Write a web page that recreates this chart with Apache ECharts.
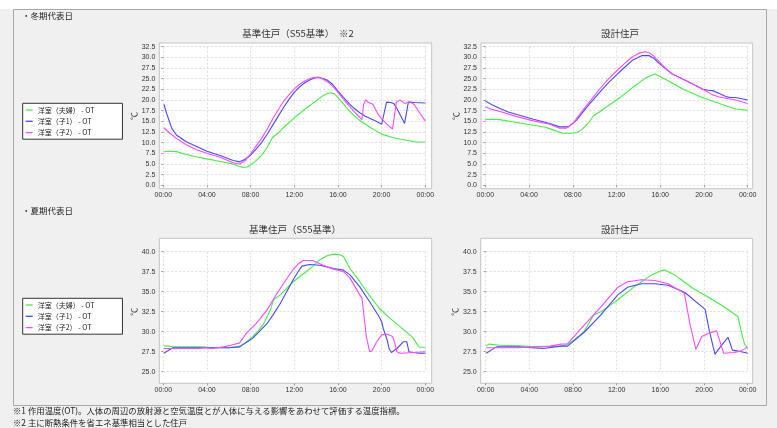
<!DOCTYPE html>
<html>
<head>
<meta charset="utf-8">
<script src="https://cdn.jsdelivr.net/npm/echarts@6/dist/echarts.min.js"></script>
<style>
html,body{margin:0;padding:0;background:#f0f0f0;}
#c{width:777px;height:428px;}
</style>
</head>
<body>
<div id="c"></div>
<script>
// ---------- data (time in hours, value in ℃) ----------
const seriesNames = ['洋室（夫婦） - OT', '洋室（子1） - OT', '洋室（子2） - OT'];
const chartTitles = ['基準住戸（S55基準）　※2', '設計住戸', '基準住戸（S55基準）', '設計住戸'];
const sectionTitles = ['・冬期代表日', '・夏期代表日'];
const footnotes = ['※1 作用温度(OT)。人体の周辺の放射源と空気温度とが人体に与える影響をあわせて評価する温度指標。',
                   '※2 主に断熱条件を省エネ基準相当とした住戸'];
const xTicks = [0, 4, 8, 12, 16, 20, 24];
const winterYRange = [0, 32.5, 2.5];
const summerYRange = [25, 40, 2.5];

// Winter, base dwelling
const w1Green = [[0.1,7.9],[0.5,8.0],[1.2,7.9],[2,7.3],[3,6.7],[4,6.2],[5,5.7],[6,5.2],[6.5,4.9],[7,4.4],[7.3,4.2],[7.7,4.3],[8,4.8],[8.5,5.8],[9,7.0],[9.5,8.8],[10,11.2],[10.5,12.2],[11,13.5],[12,15.8],[13,17.9],[14,19.8],[14.5,20.8],[15,21.5],[15.3,21.7],[15.7,21.4],[16,20.6],[16.5,19.1],[17,17.6],[17.5,16.3],[18,15.2],[19,13.5],[20,12.0],[21,11.2],[22,10.7],[23,10.2],[23.5,10.1],[24,10.2]];
const w1Blue = [[0.05,19.0],[0.3,16.9],[0.77,13.4],[1.2,11.8],[2.1,10.2],[3.1,9.05],[4,8.0],[5.2,7.0],[6.4,5.8],[7.0,5.5],[7.5,6.1],[8,7.1],[8.5,8.5],[9,10.0],[9.5,11.9],[10,14.0],[10.5,16.1],[11,18.2],[11.5,20.1],[12,21.8],[12.5,23.1],[13,24.1],[13.5,24.8],[14,25.3],[14.3,25.3],[14.7,25.0],[15,24.7],[15.5,23.7],[16,22.1],[16.5,20.6],[17,19.2],[17.5,18.0],[18,17.0],[18.5,16.2],[19,15.6],[19.5,15.0],[20,14.3],[20.15,14.0],[20.45,19.5],[20.8,19.4],[21.1,19.2],[21.4,18.0],[21.8,16.0],[22.1,14.5],[22.45,19.5],[23,19.4],[24,19.3]];
const w1Magenta = [[0.05,13.5],[0.6,12.2],[1.2,11.0],[2.1,9.5],[3.1,8.3],[4,7.5],[5.2,6.6],[6.4,5.3],[7.0,5.0],[7.5,5.8],[8,7.4],[8.5,9.2],[9,11.0],[9.5,13.1],[10,15.5],[10.5,17.6],[11,19.6],[11.5,21.2],[12,22.6],[12.5,23.7],[13,24.5],[13.5,25.1],[13.9,25.3],[14.3,25.2],[14.7,24.8],[15,24.3],[15.5,23.3],[16,21.8],[16.5,20.2],[17,18.7],[17.5,17.2],[18,15.9],[18.2,15.4],[18.35,19.0],[18.55,20.0],[18.8,19.4],[19.2,19.0],[19.6,17.0],[20,15.6],[20.5,14.3],[21.0,13.2],[21.1,13.1],[21.35,19.5],[21.7,20.0],[22.1,19.2],[22.6,19.6],[23.0,18.9],[23.5,16.9],[24,15.1]];

// Winter, design dwelling
const w2Green = [[0,15.4],[0.5,15.5],[1.3,15.4],[2.5,14.9],[4.4,14.1],[5.5,13.6],[6.2,13.0],[7.1,12.2],[8.0,12.2],[8.4,12.4],[8.8,13.0],[9.4,14.5],[9.9,16.3],[10.5,17.3],[11.2,18.6],[12,20.0],[13,21.9],[13.5,23.0],[14.2,24.3],[14.75,25.3],[15.5,26.1],[16.3,25.1],[17,24.1],[18.1,22.5],[19,21.5],[19.6,20.8],[20.5,20.0],[21.4,19.2],[22.2,18.5],[22.9,17.9],[24,17.6]];
const w2Blue = [[0,19.8],[0.6,18.9],[1.35,18.0],[2.1,17.2],[2.9,16.6],[4.4,15.5],[5.9,14.5],[6.8,13.7],[7.6,13.7],[8.35,15.3],[9.3,18.4],[10.5,21.9],[11.2,23.9],[12,25.9],[12.8,27.8],[13.5,29.4],[14.3,30.4],[15.0,30.4],[15.4,29.8],[15.9,28.6],[16.5,27.3],[17.1,26.1],[18,25.0],[18.7,24.1],[19.9,22.5],[20.4,22.3],[20.8,22.2],[21.4,21.5],[22.0,20.8],[22.4,20.6],[22.9,20.6],[24,20.0]];
const w2Magenta = [[0,18.4],[0.6,17.8],[1.35,17.3],[2.9,16.1],[4.4,15.1],[5.9,14.3],[6.8,13.4],[7.45,13.4],[8.0,14.5],[8.95,17.7],[10.5,22.7],[11.2,24.8],[12,26.8],[12.8,28.7],[13.5,30.2],[14.1,31.0],[14.6,31.3],[15.0,31.1],[15.4,30.3],[15.9,29.0],[16.5,27.4],[17.1,26.1],[18,25.0],[18.7,24.1],[19.9,22.5],[20.8,21.2],[21.4,20.7],[22.0,20.4],[22.9,20.0],[24,19.2]];

// Summer, base dwelling
const s1Green = [[0.05,28.25],[0.5,28.2],[0.9,28.1],[2,28.1],[3.7,28.1],[4.5,28.0],[6,28.0],[7.0,28.2],[7.6,28.7],[8.2,29.4],[8.7,30.1],[9.2,31.0],[9.8,32.7],[10.1,34.0],[10.7,34.6],[11.3,35.4],[11.9,36.25],[12.5,36.9],[13.1,37.5],[13.7,38.2],[14.35,39.0],[15,39.5],[15.6,39.7],[16.2,39.6],[16.5,39.4],[17.1,37.9],[18,36.25],[18.9,34.5],[19.8,32.9],[20.75,31.7],[21.7,30.6],[22.5,29.7],[22.9,29.2],[23.3,28.3],[23.5,28.05],[24,28.05]];
const s1Blue = [[0.05,27.3],[0.5,27.7],[0.9,28.0],[2,28.0],[4,28.0],[6,28.0],[7,28.1],[8.2,29.2],[9.5,31.0],[10.1,32.2],[10.7,33.5],[11.3,35.0],[11.9,36.5],[12.3,37.4],[12.7,38.2],[13.4,38.4],[14.35,38.3],[15.0,38.1],[15.6,37.9],[16.5,37.7],[17.1,37.1],[18,35.6],[18.9,33.75],[19.8,31.8],[20.0,31.25],[20.15,30.4],[20.5,29.0],[20.7,27.8],[20.9,27.4],[21.4,27.9],[22.0,28.75],[22.3,28.75],[22.5,27.5],[22.9,27.4],[23.5,27.3],[24,27.3]];
const s1Magenta = [[0.05,27.9],[1,27.9],[3.3,27.9],[3.8,28.0],[4.5,27.9],[5.5,28.1],[6.2,28.3],[7.0,28.6],[7.6,29.8],[8.5,31.0],[9.5,32.7],[10.2,34.3],[11.0,36.0],[11.9,37.8],[12.4,38.5],[12.8,38.9],[13.7,38.9],[14.65,38.3],[15.6,37.8],[16.5,37.5],[17.1,36.7],[18,34.6],[18.2,34.2],[18.6,29.4],[18.9,27.5],[19.1,27.6],[19.55,28.75],[20.0,29.6],[20.5,29.7],[21.0,29.4],[21.2,28.6],[21.4,27.5],[21.7,27.3],[22.9,27.4],[24,27.5]];

// Summer, design dwelling
const s2Green = [[0.05,28.25],[0.3,28.45],[1.3,28.3],[3,28.25],[4.5,28.1],[6.9,28.2],[7.5,28.4],[8.2,29.1],[9.0,30.0],[9.9,32.1],[10.55,32.5],[11.3,33.2],[12.1,34.0],[13.6,35.6],[15.2,37.1],[16.0,37.6],[16.4,37.7],[17.3,37.1],[18.1,36.3],[18.9,35.5],[20.4,34.3],[21.9,33.05],[23.1,31.9],[23.5,29.5],[23.7,28.5],[24,27.9]];
const s2Blue = [[0.05,27.3],[0.5,27.7],[1.0,28.1],[3,28.1],[5.3,27.9],[6.9,28.2],[7.5,28.2],[9.0,29.9],[10.55,32.1],[12.1,34.6],[13.0,35.55],[14.25,36.0],[15.5,36.0],[16.7,35.8],[18.25,34.9],[20.1,32.8],[20.5,30.0],[21.0,27.2],[21.6,28.3],[22.2,29.3],[22.6,27.7],[23.0,27.6],[23.4,27.5],[24,27.3]];
const s2Magenta = [[0.05,28.0],[3,28.0],[5.9,28.2],[6.9,28.45],[7.5,28.5],[9.0,30.8],[10.55,33.1],[12.1,35.55],[13.0,36.25],[14.25,36.5],[15.5,36.4],[16.7,36.0],[18.2,34.8],[18.7,31.05],[19.25,27.8],[19.8,29.4],[20.4,29.8],[21.15,30.1],[21.8,27.3],[22.8,27.4],[23.4,27.6],[24,28.1]];

// ---------- layout / style ----------
const colors = ['#44ee44', '#4848ff', '#ff48ff'];
const FONT_JP = '"Noto Sans CJK JP", "Noto Sans", sans-serif';
const FONT_NUM = '"Liberation Sans", Arial, sans-serif';

const charts = [
  {outer:[159.3,43,431.7,188.7], inner:[163.3,46.7,425.3,185.3], y:winterYRange, data:[w1Green,w1Blue,w1Magenta], tx:298, ty:33},
  {outer:[481,43,752.7,188.7],   inner:[485.3,46.7,747.7,185.3], y:winterYRange, data:[w2Green,w2Blue,w2Magenta], tx:620, ty:33},
  {outer:[159.3,238.3,431.7,383.3], inner:[163.3,251.7,425.3,371.7], y:summerYRange, data:[s1Green,s1Blue,s1Magenta], tx:295, ty:229},
  {outer:[480.7,238.3,752.7,383.3], inner:[485.7,251.7,747.7,371.7], y:summerYRange, data:[s2Green,s2Blue,s2Magenta], tx:620, ty:229}
];

const W = 777, H = 428;
const grid = [], xAxis = [], yAxis = [], series = [], graphic = [];

graphic.push({type:'rect', shape:{x:0,y:0,width:W,height:9}, style:{fill:'#ffffff'}, z:-10, silent:true});
graphic.push({type:'rect', shape:{x:13.5,y:9.5,width:753,height:396}, style:{fill:'none', stroke:'#a8a8a8', lineWidth:1}, z:-9, silent:true});

charts.forEach((c, i) => {
  const o = c.outer, n = c.inner;
  grid.push({left:o[0], top:o[1], width:o[2]-o[0], height:o[3]-o[1], show:true,
             backgroundColor:'#ffffff', borderColor:'#c4c4c4', borderWidth:1, z:0, outerBoundsMode:'none'});
  grid.push({left:n[0], top:n[1], width:n[2]-n[0], height:n[3]-n[1], show:false, outerBoundsMode:'none'});
  const go = 2*i, gi = 2*i+1;
  xAxis.push({gridIndex:go, type:'value', min:0, max:1, show:false});
  yAxis.push({gridIndex:go, type:'value', min:0, max:1, show:false});
  xAxis.push({gridIndex:gi, type:'value', min:xTicks[0], max:xTicks[xTicks.length-1], interval:xTicks[1]-xTicks[0],
    offset:o[3]-n[3], z:2,
    axisLine:{show:false},
    axisTick:{show:true, length:2, lineStyle:{color:'#999'}},
    axisLabel:{fontSize:7, fontFamily:FONT_NUM, color:'#333', margin:3,
               formatter:v => String(v % 24).padStart(2,'0') + ':00'},
    splitLine:{show:true, lineStyle:{color:'#dedede', type:[2,2], width:1}}
  });
  yAxis.push({gridIndex:gi, type:'value', min:c.y[0], max:c.y[1], interval:c.y[2],
    offset:n[0]-o[0], z:2,
    name:'℃', nameLocation:'middle', nameGap:21, nameRotate:90,
    nameTextStyle:{fontSize:8, fontFamily:FONT_JP, color:'#333'},
    axisLine:{show:false},
    axisTick:{show:true, length:2, lineStyle:{color:'#999'}},
    axisLabel:{fontSize:7, fontFamily:FONT_NUM, color:'#333', margin:4, formatter:v => v.toFixed(1)},
    splitLine:{show:true, lineStyle:{color:'#dedede', type:[2,2], width:1}}
  });
  c.data.forEach((d, k) => {
    series.push({type:'line', name:seriesNames[k], xAxisIndex:gi, yAxisIndex:gi, data:d,
      showSymbol:false, symbol:'none', smooth:false, z:3, animation:false,
      lineStyle:{color:colors[k], width:1.1}, itemStyle:{color:colors[k]}});
  });
  graphic.push({type:'text', x:c.tx, y:c.ty, silent:true,
    style:{text:chartTitles[i], font:'9.5px ' + FONT_JP, fill:'#333', align:'center', verticalAlign:'middle',
           textAlign:'center', textVerticalAlign:'middle'}});
});

[[22, 16], [22, 211]].forEach((p, i) => {
  graphic.push({type:'text', x:p[0], y:p[1], silent:true,
    style:{text:sectionTitles[i], font:'8.5px ' + FONT_JP, fill:'#222', align:'left', verticalAlign:'middle',
           textAlign:'left', textVerticalAlign:'middle'}});
});
[[13, 411], [13, 423]].forEach((p, i) => {
  graphic.push({type:'text', x:p[0], y:p[1], silent:true,
    style:{text:footnotes[i], font:'8.4px ' + FONT_JP, fill:'#222', align:'left', verticalAlign:'middle',
           textAlign:'left', textVerticalAlign:'middle'}});
});

function makeLegend(top) {
  return {show:true, orient:'vertical', left:22.7, top:top, data:seriesNames,
    icon:'rect', itemWidth:7, itemHeight:1.3, itemGap:2.3,
    padding:[2.2, 28, 2.1, 3], borderColor:'#333', borderWidth:1, backgroundColor:'#ffffff',
    textStyle:{fontSize:7, fontFamily:FONT_JP, color:'#222', lineHeight:9},
    selectedMode:false};
}

const chart = echarts.init(document.getElementById('c'), null, {renderer:'canvas', width:W, height:H});
chart.setOption({
  backgroundColor:'#f0f0f0',
  animation:false,
  grid, xAxis, yAxis, series, graphic,
  legend:[makeLegend(103.3), makeLegend(298.3)]
});
</script>
</body>
</html>
